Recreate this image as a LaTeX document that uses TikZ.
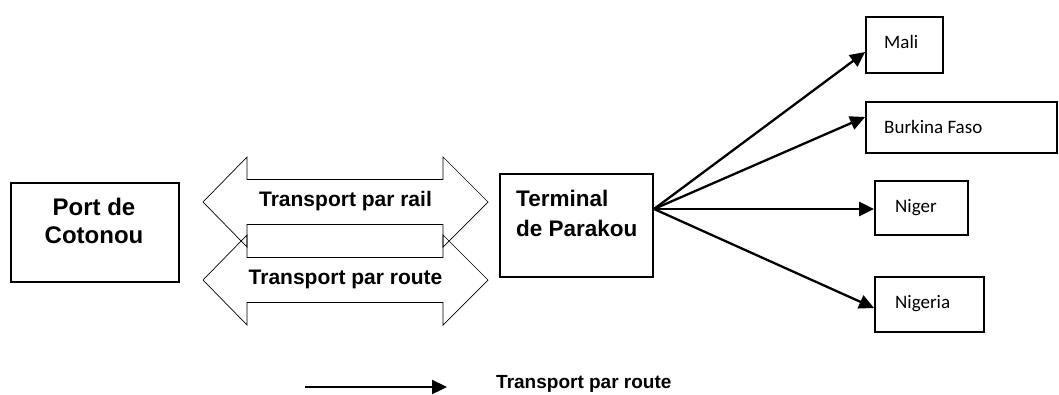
\documentclass[tikz,border=0pt]{standalone}
\usepackage{fontspec}
\setmainfont{Liberation Sans}
\newfontfamily\calfont{Carlito}
\usetikzlibrary{arrows.meta}
\tikzset{
  box/.style={draw, line width=1.8pt, inner sep=0pt, fill=white},
  bigarrow/.style={draw, line width=0.7pt, line join=miter},
  flow/.style={line width=2.3pt, -{Triangle[length=15pt,width=14pt]}},
  boldtxt/.style={font=\fontsize{21}{28}\selectfont\bfseries, inner sep=0pt},
  countrytxt/.style={font=\calfont\fontsize{19}{23}\selectfont, inner sep=0pt, anchor=base west},
}
\begin{document}
\begin{tikzpicture}[x=1pt,y=-1pt]
\useasboundingbox (0,0) rectangle (1059,394);

% left box
\node[box, minimum width=168pt, minimum height=99pt] (port) at (95,232.5) {};
\node[boldtxt, align=center, anchor=north, font=\fontsize{24}{28}\selectfont\bfseries] (porttxt) at (94,197.5) {Port de\\Cotonou};

% double arrows
\draw[bigarrow] (203,202) -- (247,157) -- (247,179.5) -- (443,179.5) -- (443,157) -- (488,202)
  -- (443,247) -- (443,224.5) -- (247,224.5) -- (247,247) -- cycle;
\node[boldtxt] (rail) at (345.5,201) {Transport par rail};
\draw[bigarrow] (203,280) -- (247,235) -- (247,257.5) -- (443,257.5) -- (443,235) -- (488,280)
  -- (443,325) -- (443,302.5) -- (247,302.5) -- (247,325) -- cycle;
\node[boldtxt] (route) at (345.5,279) {Transport par route};

% terminal
\node[box, minimum width=153pt, minimum height=103pt] (term) at (576.5,225.5) {};
\node[boldtxt, align=left, anchor=north west, font=\fontsize{22.5}{30}\selectfont\bfseries] (termtxt) at (516,190) {Terminal\\de Parakou};

% country boxes
\node[box, minimum width=77pt, minimum height=56pt] (mali) at (904.5,45) {};
\node[countrytxt] (malitxt) at (884,48) {Mali};
\node[box, minimum width=191pt, minimum height=51pt] (burkina) at (961.5,127.5) {};
\node[countrytxt] (burkinatxt) at (884,133) {Burkina Faso};
\node[box, minimum width=93pt, minimum height=54pt] (niger) at (921.5,208) {};
\node[countrytxt] (nigertxt) at (895,212) {Niger};
\node[box, minimum width=109pt, minimum height=55pt] (nigeria) at (929.5,304.5) {};
\node[countrytxt] (nigeriatxt) at (895,308) {Nigeria};

% connectors
\coordinate (hub) at (654,209);
\draw[flow] (hub) -- ([yshift=-7pt]mali.west);
\draw[flow] (hub) -- ([yshift=10.5pt]burkina.west);
\draw[flow] (hub) -- (niger.west |- hub);
\draw[flow] (hub) -- ([yshift=-3.5pt]nigeria.west);

% legend
\coordinate (lgA) at (305,387);
\coordinate (lgB) at (447,387);
\draw[flow] (lgA) -- (lgB);
\node[font=\fontsize{19}{23}\selectfont\bfseries, inner sep=0pt, anchor=base west] (legend) at (496,388) {Transport par route};
\end{tikzpicture}
\end{document}
